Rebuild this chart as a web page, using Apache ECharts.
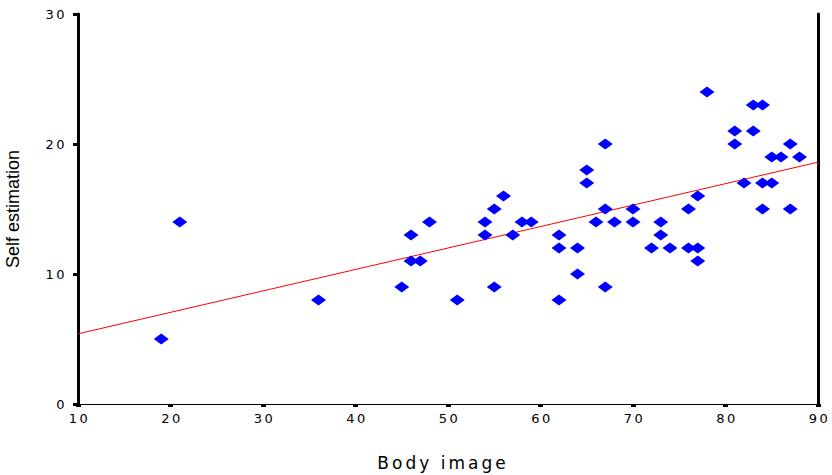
<!doctype html>
<html>
<head>
<meta charset="UTF-8"/>
<title>Self estimation vs Body image</title>
<script src="https://cdn.jsdelivr.net/npm/echarts@6/dist/echarts.min.js"></script>
<style>
html, body { margin: 0; padding: 0; background: #fff; }
#chart { width: 832px; height: 475px; }
/* the original uses widely spaced lettering on the axis texts */
#chart text[style*="13px"] { letter-spacing: 2.5px; }
#chart text[style*="17px"] { letter-spacing: 3px; }
</style>
</head>
<body>
<div id="chart"></div>
<script>
// body image scores (x) and self estimation scores (y)
var bodyImage = [19, 21, 36, 45, 46, 46, 47, 48, 51, 54, 54, 55, 56, 55, 57, 58, 59,
  62, 62, 62, 64, 64, 65, 65, 66, 67, 67, 67, 68, 70, 70, 72, 73, 73, 74, 76, 76,
  77, 77, 77, 78, 81, 81, 82, 83, 83, 84, 84, 84, 85, 85, 86, 87, 87, 88];
var selfEstimation = [5, 14, 8, 9, 13, 11, 11, 14, 8, 14, 13, 15, 16, 9, 13, 14, 14,
  13, 12, 8, 12, 10, 18, 17, 14, 20, 15, 9, 14, 15, 14, 12, 14, 13, 12, 15, 12,
  16, 12, 11, 24, 21, 20, 17, 23, 21, 23, 17, 15, 19, 17, 19, 20, 15, 19];
// fit line end points
var fitX = [10, 90];
var fitY = [5.4, 18.6];
var xTicks = [10, 20, 30, 40, 50, 60, 70, 80, 90];
var yTicks = [0, 10, 20, 30];

var points = bodyImage.map(function (v, i) { return [v, selfEstimation[i]]; });
var fitLine = fitX.map(function (v, i) { return [v, fitY[i]]; });

var myChart = echarts.init(document.getElementById('chart'), null, { renderer: 'svg' });

var tickFont = { color: '#000', fontFamily: 'DejaVu Sans', fontSize: 13 };

option = {
    animation: false,
    grid: { left: 78, right: 14, top: 14, bottom: 71, outerBoundsMode: 'none', containLabel: false },
    xAxis: [
        {
            type: 'value',
            min: xTicks[0],
            max: xTicks[xTicks.length - 1],
            interval: 10,
            name: 'Body image',
            nameLocation: 'middle',
            nameGap: 50,
            nameTextStyle: { color: '#000', fontFamily: 'DejaVu Sans', fontSize: 17, padding: [0, 10, 0, 0] },
            axisLine: { lineStyle: { color: '#000', width: 1 } },
            axisTick: { length: 3, lineStyle: { color: '#000', width: 5 } },
            axisLabel: Object.assign({ margin: 8, padding: [0, 0, 0, 3] }, tickFont),
            splitLine: { show: false }
        },
        {
            type: 'value',
            position: 'top',
            min: xTicks[0],
            max: xTicks[xTicks.length - 1],
            axisLine: { show: true, lineStyle: { color: '#000', width: 1 } },
            axisTick: { show: false },
            axisLabel: { show: false },
            splitLine: { show: false }
        }
    ],
    yAxis: [
        {
            type: 'value',
            min: yTicks[0],
            max: yTicks[yTicks.length - 1],
            interval: 10,
            name: 'Self estimation',
            nameLocation: 'middle',
            nameGap: 56,
            nameRotate: 90,
            nameTextStyle: { color: '#000', fontFamily: 'Liberation Sans', fontSize: 18 },
            axisLine: { show: true, lineStyle: { color: '#000', width: 3 } },
            axisTick: { show: true, length: 5, lineStyle: { color: '#000', width: 3 } },
            axisLabel: Object.assign({ margin: 11 }, tickFont),
            splitLine: { show: false }
        },
        {
            type: 'value',
            position: 'right',
            min: yTicks[0],
            max: yTicks[yTicks.length - 1],
            axisLine: { show: true, lineStyle: { color: '#000', width: 3 } },
            axisTick: { show: false },
            axisLabel: { show: false },
            splitLine: { show: false }
        }
    ],
    series: [
        {
            name: 'fit',
            type: 'line',
            data: fitLine,
            symbol: 'none',
            lineStyle: { color: '#ff0000', width: 1 },
            silent: true,
            z: 1
        },
        {
            name: 'cases',
            type: 'scatter',
            data: points,
            symbol: 'diamond',
            symbolSize: [15, 11],
            itemStyle: { color: '#0000ff', opacity: 1 },
            z: 2
        }
    ]
};

myChart.setOption(option);
</script>
</body>
</html>
